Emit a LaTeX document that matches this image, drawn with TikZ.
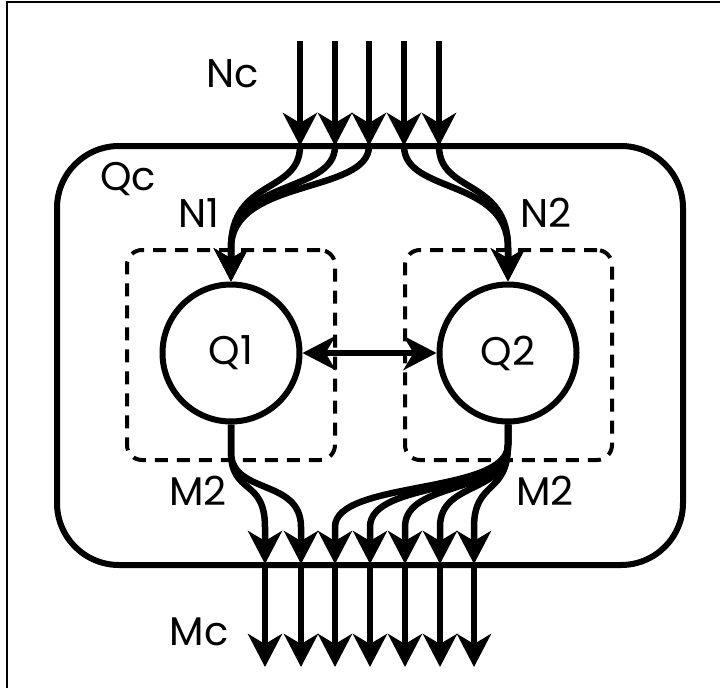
\documentclass[tikz,border=0pt]{standalone}
\usepackage{fontspec}
\setmainfont{Poppins}
\usetikzlibrary{arrows.meta}
\begin{document}
\begin{tikzpicture}[x=1pt,y=-1pt,
  thickline/.style={line width=6.5pt},
  tipend/.style={-{Stealth[length=33pt,width=34pt,inset=10pt]}},
  lbl/.style={font=\fontsize{40}{40}\selectfont, inner sep=0pt},
  queue/.style={draw, circle, line width=6pt, minimum size=137pt, inner sep=0pt, font=\fontsize{40}{40}\selectfont},
  dashbox/.style={draw, line width=4pt, dash pattern=on 13pt off 9pt, rounded corners=15pt, inner sep=0pt},
  ]
\useasboundingbox (0,0) rectangle (720,688);
\draw[line width=1.5pt] (7,688) -- (7,2) -- (720,2);

% outer box Qc
\node[draw, line width=6pt, rounded corners=62pt, minimum width=626pt, minimum height=419pt, inner sep=0pt] (Qc) at (370,355.5) {};
% dashed boxes
\node[dashbox, minimum width=208pt, minimum height=210pt] (B1) at (231,355) {};
\node[dashbox, minimum width=207pt, minimum height=210pt] (B2) at (508.5,355) {};
% queues
\node[queue] (Q1) at (231,353) {Q1};
\node[queue] (Q2) at (508,353) {Q2};

% labels
\node[lbl] (Nc) at (233,74) {Nc};
\node[lbl] (QcL) at (128,179) {Qc};
\node[lbl] (N1) at (199,213) {N1};
\node[lbl] (N2) at (546,213) {N2};
\node[lbl] (M2a) at (198,491) {M2};
\node[lbl] (M2b) at (545,491) {M2};
\node[lbl] (Mc) at (199,632) {Mc};

% incoming arrows
\foreach \i/\x in {1/300,2/335,3/369,4/404,5/439}{
  \coordinate (s\i) at (\x,41);
  \coordinate (e\i) at (\x,146);
  \draw[thickline, tipend] (s\i) -- (e\i);
}
\foreach \i in {1,2,3}{
  \draw[thickline, tipend] (e\i) .. controls +(0,48) and (231,178) .. (231,248) -- (Q1.north);
}
\foreach \i in {4,5}{
  \draw[thickline, tipend] (e\i) .. controls +(0,48) and (508,178) .. (508,248) -- (Q2.north);
}

% exchange
\draw[thickline, {Stealth[length=33pt,width=34pt,inset=10pt]}-{Stealth[length=33pt,width=34pt,inset=10pt]}] (Q1.east) -- (Q2.west);

% outgoing arrows
\foreach \i/\x in {1/265,2/301,3/335,4/370,5/405,6/440,7/474}{
  \coordinate (o\i) at (\x,564);
  \coordinate (f\i) at (\x,667);
  \coordinate (c\i) at (\x,527);
  \draw[thickline, tipend] (o\i) -- (f\i);
}
\foreach \i in {1,2}{
  \draw[thickline, tipend] (Q1.south) -- (231,452) .. controls (231,495) and (c\i |- 0,478) .. (c\i) -- (o\i);
}
\foreach \i in {3,4,5,6,7}{
  \draw[thickline, tipend] (Q2.south) -- (508,445) .. controls (508,495) and (c\i |- 0,480) .. (c\i) -- (o\i);
}
\end{tikzpicture}
\end{document}
